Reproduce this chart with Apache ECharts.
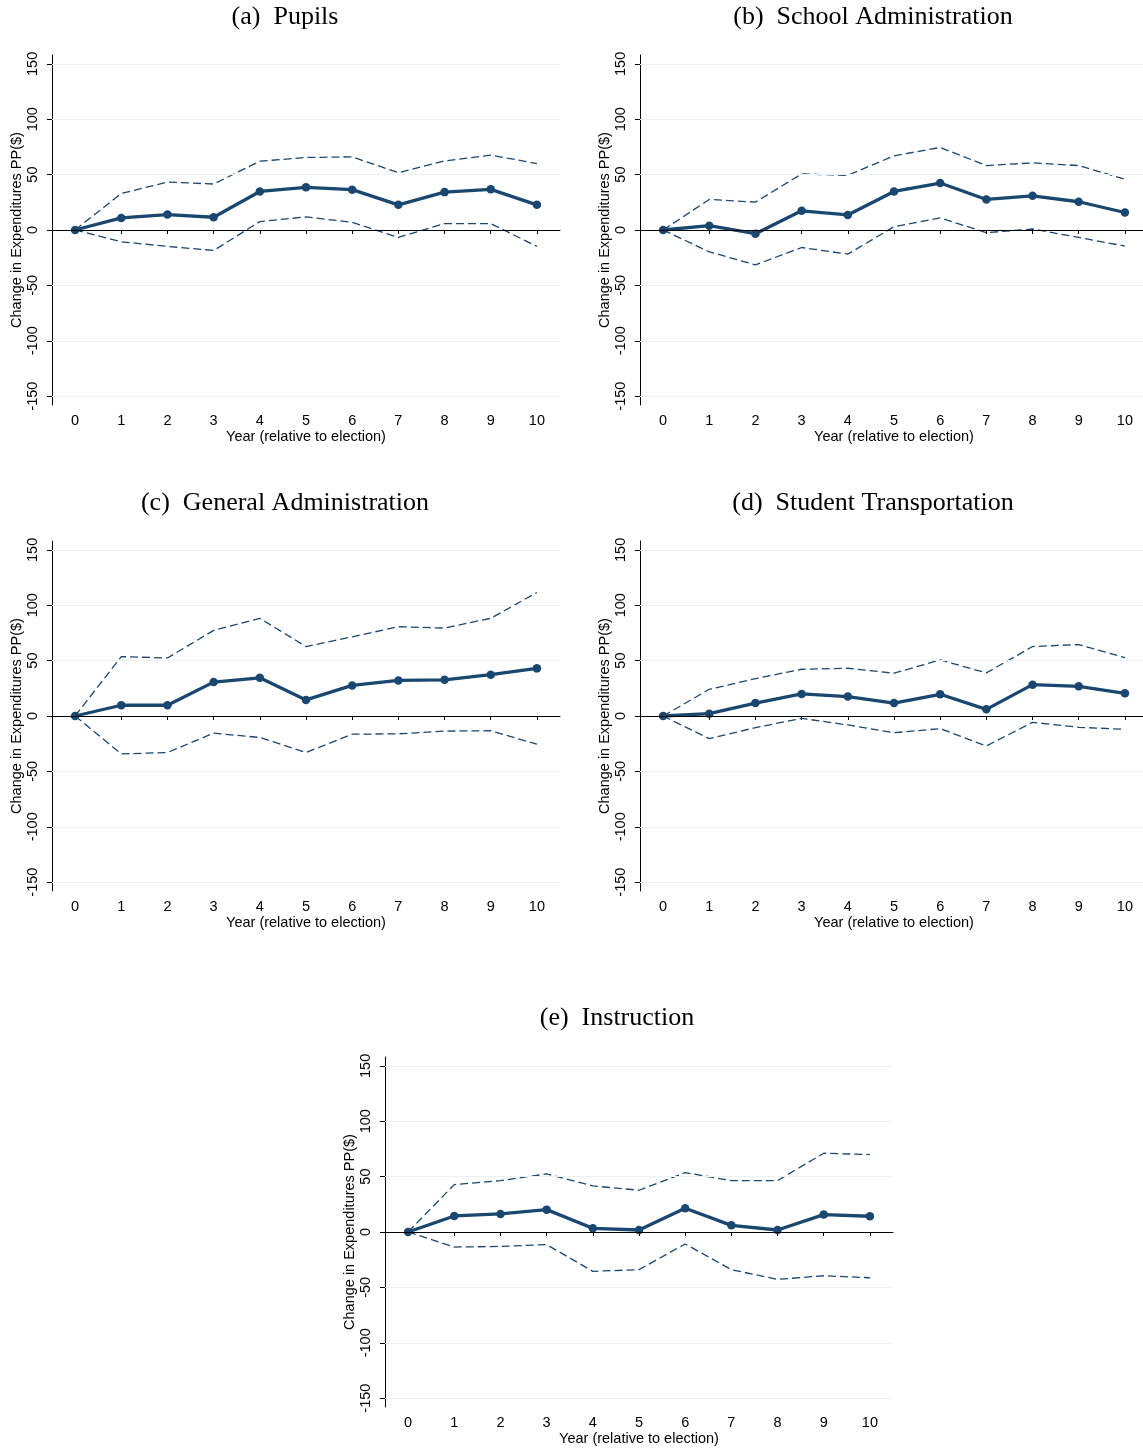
<!DOCTYPE html>
<html><head><meta charset="utf-8">
<script src="https://cdn.jsdelivr.net/npm/echarts@6.0.0/dist/echarts.min.js"></script>
<style>html,body{margin:0;padding:0;background:#fff}#c{width:1143px;height:1450px}</style>
</head><body><div id="c"></div>
<script>
const years = ['0','1','2','3','4','5','6','7','8','9','10'];
const yTickValues = [-150,-100,-50,0,50,100,150];
const gridLineValues = [-150,-100,-50,50,100,150];
const panelTitles = ['(a)  Pupils','(b)  School Administration','(c)  General Administration','(d)  Student Transportation','(e)  Instruction'];
const xAxisTitle = 'Year (relative to election)';
const yAxisTitle = 'Change in Expenditures PP($)';

const pupilsEst = [0,10.9,13.9,11.5,34.8,38.5,36.4,22.7,34.2,36.7,22.7];
const pupilsHi  = [0,33,43.3,41.5,62.1,65.5,66,51.8,62.4,67.6,60];
const pupilsLo  = [0,-10.6,-14.8,-18.5,7.6,11.8,7,-6.7,5.8,5.8,-14.8];

const schoolEst = [0,3.9,-3.3,17.3,13.6,34.8,42.4,27.6,30.9,25.5,15.8];
const schoolHi  = [0,27.6,25.2,50.6,49.4,67,74.5,58.2,60.6,58.2,45.8];
const schoolLo  = [0,-19.7,-31.5,-15.8,-21.8,3,10.9,-2.4,0.9,-6.7,-14.5];

const generalEst = [0,9.7,9.7,30.6,34.5,14.5,27.6,32.1,32.7,37.3,43];
const generalHi  = [0,53.6,52.4,77.3,88.2,62.7,71.5,80.6,79.4,88.2,111.5];
const generalLo  = [0,-34.2,-33,-15.5,-19.4,-33,-16.4,-16.1,-13.6,-13.3,-25.5];

const transportEst = [0,2.1,11.7,19.9,17.5,11.7,19.6,6,28.3,26.8,20.5];
const transportHi  = [0,24.1,33.7,42.2,43.1,38.6,50.6,38.9,62.7,64.5,52.7];
const transportLo  = [0,-20.5,-10.5,-2.1,-8.1,-15.1,-11.4,-27.1,-5.7,-10.2,-12];

const instructionEst = [0,14.5,16.3,20.2,3.3,1.8,21.4,6,1.8,15.7,14.2];
const instructionHi  = [0,42.8,46.4,52.4,41.6,37.7,53.6,46.4,46.4,71.1,69.9];
const instructionLo  = [0,-13.6,-13,-11.4,-35.5,-34,-10.8,-34,-42.8,-39.5,-41.3];

const panels = [
  {est: pupilsEst, hi: pupilsHi, lo: pupilsLo},
  {est: schoolEst, hi: schoolHi, lo: schoolLo},
  {est: generalEst, hi: generalHi, lo: generalLo},
  {est: transportEst, hi: transportHi, lo: transportLo},
  {est: instructionEst, hi: instructionHi, lo: instructionLo}
];

const gridPos = [
  {left: 52, top: 55}, {left: 640, top: 55},
  {left: 52, top: 541}, {left: 640, top: 541},
  {left: 385, top: 1057}
];
const titlePos = [
  {x: 285, y: 4}, {x: 873, y: 4}, {x: 285, y: 490}, {x: 873, y: 490}, {x: 617, y: 1005}
];

const NAVY = '#1a476f';
const SANS = '"Liberation Sans", Arial, sans-serif';
const SERIF = '"Liberation Serif", "Times New Roman", serif';
const FS = 14.5;

const option = {
  animation: false,
  backgroundColor: '#fff',
  title: panelTitles.map((t, i) => ({
    text: t, left: titlePos[i].x, top: titlePos[i].y, textAlign: 'center', padding: 0,
    textStyle: {fontFamily: SERIF, fontSize: 26, fontWeight: 'normal', color: '#000'}
  })),
  grid: gridPos.map(g => ({left: g.left, top: g.top, width: 508, height: 350, containLabel: false, outerBoundsMode: 'none'})),
  xAxis: gridPos.map((g, i) => ({
    type: 'category', gridIndex: i, data: years, boundaryGap: true,
    axisLine: {show: true, lineStyle: {color: '#000', width: 1}},
    axisTick: {show: true, alignWithLabel: true, length: 4, lineStyle: {color: '#000'}},
    axisLabel: {fontFamily: SANS, fontSize: FS, color: '#000', margin: 8},
    splitLine: {show: false},
    name: xAxisTitle, nameLocation: 'middle', nameGap: 24,
    nameTextStyle: {fontFamily: SANS, fontSize: FS, color: '#000'}
  })),
  yAxis: gridPos.map((g, i) => ({
    type: 'value', gridIndex: i, min: -158, max: 158,
    axisLine: {show: true, lineStyle: {color: '#000', width: 1}},
    axisTick: {show: true, length: 5, customValues: yTickValues, lineStyle: {color: '#000'}},
    axisLabel: {fontFamily: SANS, fontSize: FS, color: '#000', rotate: 90, margin: 12, customValues: yTickValues},
    splitLine: {show: false},
    name: yAxisTitle, nameLocation: 'middle', nameGap: 27, nameRotate: 90,
    nameTextStyle: {fontFamily: SANS, fontSize: FS, color: '#000'}
  })),
  series: []
};

panels.forEach((p, i) => {
  option.series.push({
    type: 'line', xAxisIndex: i, yAxisIndex: i, data: [], z: 1, silent: true,
    markLine: {
      silent: true, symbol: ['none', 'none'], label: {show: false},
      lineStyle: {color: '#eaf2f3', width: 1, type: 'solid'},
      data: gridLineValues.map(v => ({yAxis: v}))
    }
  });
  option.series.push({
    type: 'line', xAxisIndex: i, yAxisIndex: i, data: [], z: 2, silent: true,
    markLine: {
      silent: true, symbol: ['none', 'none'], label: {show: false},
      lineStyle: {color: '#000', width: 1.2, type: 'solid'},
      data: [{yAxis: 0}]
    }
  });
  [p.hi, p.lo].forEach(d => {
    option.series.push({
      type: 'line', xAxisIndex: i, yAxisIndex: i, data: d, z: 3, symbol: 'none',
      lineStyle: {color: NAVY, width: 1.3, type: [8, 4]}
    });
  });
  option.series.push({
    type: 'line', xAxisIndex: i, yAxisIndex: i, data: p.est, z: 4,
    symbol: 'circle', symbolSize: 8.5, showAllSymbol: true,
    itemStyle: {color: NAVY},
    lineStyle: {color: NAVY, width: 3.3}
  });
});

const chart = echarts.init(document.getElementById('c'), null, {renderer: 'canvas'});
chart.setOption(option);
</script>
</body></html>
